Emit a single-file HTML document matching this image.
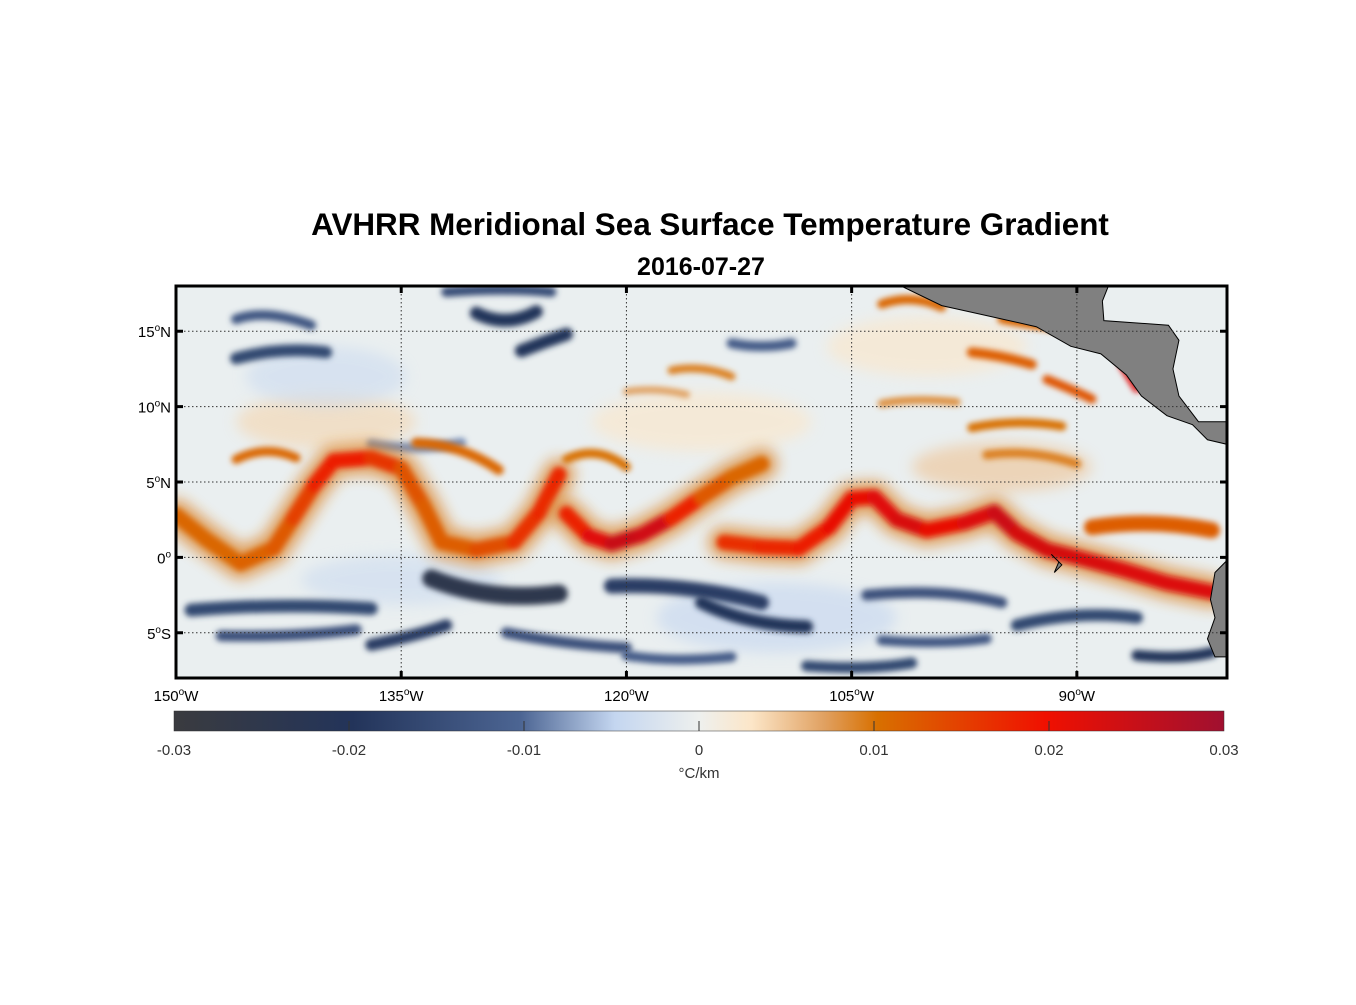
<!DOCTYPE html>
<html><head><meta charset="utf-8"><style>
body{margin:0;background:#fff;font-family:"Liberation Sans",sans-serif}
svg text{font-family:"Liberation Sans",sans-serif}
</style></head><body>
<svg id="chart" width="1356" height="1000" viewBox="0 0 1356 1000" xmlns="http://www.w3.org/2000/svg">
<defs>
<filter id="blur" filterUnits="userSpaceOnUse" x="150" y="260" width="1110" height="440"><feGaussianBlur stdDeviation="3"/></filter>
<filter id="blur2" filterUnits="userSpaceOnUse" x="150" y="260" width="1110" height="440"><feGaussianBlur stdDeviation="7"/></filter>
<clipPath id="clip"><rect x="176" y="286" width="1051" height="392"/></clipPath>
<linearGradient id="cbar" x1="0" x2="1" y1="0" y2="0">
<stop offset="0" stop-color="#3a3b3f"/><stop offset="0.17" stop-color="#23345a"/>
<stop offset="0.33" stop-color="#4c6593"/><stop offset="0.42" stop-color="#c4d6f0"/>
<stop offset="0.5" stop-color="#eef0ee"/><stop offset="0.55" stop-color="#fce6c8"/>
<stop offset="0.62" stop-color="#e0a060"/><stop offset="0.67" stop-color="#d87000"/>
<stop offset="0.83" stop-color="#f01000"/><stop offset="1" stop-color="#a01030"/>
</linearGradient>
</defs>
<text x="710" y="235" text-anchor="middle" font-size="31.4" font-weight="bold">AVHRR Meridional Sea Surface Temperature Gradient</text>
<text x="701" y="275" text-anchor="middle" font-size="25" font-weight="bold">2016-07-27</text>
<g clip-path="url(#clip)">
<rect x="176" y="286" width="1051" height="392" fill="#eaeff0"/>
<g id="fields"></g>
<g id="land"></g>
</g>
<g id="grid"></g>
<rect x="176" y="286" width="1051" height="392" fill="none" stroke="#000" stroke-width="3"/>
<g id="axes"></g>
<rect x="174" y="711" width="1050" height="20" fill="url(#cbar)" stroke="#333" stroke-width="0.5"/>
<g id="cbticks"></g>
<text x="699" y="778" text-anchor="middle" font-size="15" fill="#333">°C/km</text>
</svg>
<script>
const NS="http://www.w3.org/2000/svg";
const lonMin=-150, lonMax=-80, latMin=-8, latMax=18;
const X0=176,X1=1227,Y0=286,Y1=678;
const px=l=>X0+(l-lonMin)/(lonMax-lonMin)*(X1-X0);
const py=l=>Y1-(l-latMin)/(latMax-latMin)*(Y1-Y0);
const cbMin=-0.03,cbMax=0.03;
const cx=v=>174+(v-cbMin)/(cbMax-cbMin)*1050;
const lonTicks=[-150,-135,-120,-105,-90];
const lonLabels=["150","135","120","105","90"];
const latTicks=[15,10,5,0,-5];
const latLabels=["15","10","5","0","5"];
const latHemi=["N","N","N","",'S'];
const cbTicks=[-0.03,-0.02,-0.01,0,0.01,0.02,0.03];
const cbLabels=["-0.03","-0.02","-0.01","0","0.01","0.02","0.03"];
function mk(tag,attrs,parent){const e=document.createElementNS(NS,tag);for(const k in attrs)e.setAttribute(k,attrs[k]);parent.appendChild(e);return e;}
function color(v){
 const stops=[[-0.03,[58,59,63]],[-0.02,[35,52,90]],[-0.01,[76,101,147]],[-0.005,[196,214,240]],[0,[238,240,238]],[0.003,[252,230,200]],[0.007,[224,160,96]],[0.01,[216,112,0]],[0.02,[240,16,0]],[0.03,[160,16,48]]];
 for(let i=0;i<stops.length-1;i++){if(v<=stops[i+1][0]){const t=(v-stops[i][0])/(stops[i+1][0]-stops[i][0]);const a=stops[i][1],b=stops[i+1][1];return `rgb(${a.map((c,j)=>Math.round(c+(b[j]-c)*Math.max(0,t))).join(',')})`;}}
 return 'rgb(160,16,48)';
}
const frontLon=[-150,-148,-145.7,-143.5,-142.2,-140.8,-139.5,-137,-135,-133.5,-132.3,-130,-127.5,-125.8,-124.5];
const frontLat=[2.8,1.2,-0.4,0.6,2.6,4.8,6.4,6.6,5.9,3.4,1.0,0.5,1.0,3.0,5.5];
const frontVal=[0.011,0.011,0.011,0.012,0.013,0.017,0.019,0.018,0.014,0.012,0.012,0.012,0.015,0.018,0.017];
const front2Lon=[-124,-122.5,-121,-119,-117,-115,-113,-111];
const front2Lat=[2.9,1.4,0.9,1.5,2.6,4.0,5.3,6.2];
const front2Val=[0.016,0.02,0.024,0.026,0.022,0.014,0.011,0.011];
const front3Lon=[-113.5,-111,-108.5,-106.5,-105,-103.5,-102,-100,-97.5,-95.5,-94,-92,-90,-87,-84,-81];
const front3Lat=[1.0,0.7,0.6,2.0,3.9,4.0,2.5,1.8,2.3,3.0,1.6,0.5,0.0,-0.8,-1.7,-2.3];
const front3Val=[0.016,0.018,0.017,0.02,0.022,0.02,0.024,0.022,0.02,0.025,0.024,0.023,0.024,0.022,0.023,0.022];
const streaks=[
[-149,-3.5,-143,-3.0,-137,-3.4,-0.016,13],[-147,-5.2,-142,-5.3,-138,-4.8,-0.014,11],
[-133,-1.4,-129,-3.0,-124.5,-2.4,-0.025,18],[-137,-5.8,-134,-5.2,-132,-4.5,-0.018,12],
[-121,-1.9,-116,-1.7,-111,-3.0,-0.018,15],[-115,-3.0,-112,-4.5,-108,-4.6,-0.02,13],
[-128,-5.0,-124,-5.8,-120,-6.0,-0.014,11],[-104,-2.5,-99,-2.0,-95,-3.0,-0.014,11],
[-94,-4.5,-90,-3.5,-86,-4.0,-0.016,12],[-103,-5.5,-99,-5.8,-96,-5.4,-0.013,10],
[-108,-7.2,-104,-7.5,-101,-7.0,-0.016,11],[-86,-6.5,-83,-6.8,-81,-6.3,-0.02,11],
[-146,13.2,-143,14.0,-140,13.6,-0.016,12],[-146,15.8,-144,16.5,-141,15.4,-0.013,10],
[-130,16.2,-128,15.2,-126,16.3,-0.02,13],[-127,13.7,-125.5,14.3,-124,14.8,-0.02,13],
[-132,17.6,-128,17.9,-125,17.6,-0.015,10],[-113,14.2,-111,13.8,-109,14.2,-0.012,10],
[-137,7.5,-134,7.0,-131,7.6,-0.008,10],[-120,-6.5,-117,-7.0,-113,-6.6,-0.012,10],
[-134,7.6,-131,7.5,-128.5,5.8,0.011,10],[-124,6.5,-122,7.5,-120,6.0,0.01,9],
[-146,6.5,-144,7.5,-142,6.6,0.011,9],[-103,16.8,-101,17.5,-99,16.6,0.011,9],
[-97,13.6,-95,13.4,-93,12.8,0.012,10],[-97,8.6,-94,9.2,-91,8.7,0.01,9],
[-92,11.8,-90,11.0,-89,10.5,0.013,9],[-87,12.8,-86.5,12.0,-86,11.2,0.022,8],
[-95,15.8,-93,15.4,-91,15.2,0.011,9],[-117,12.4,-115,12.8,-113,12.0,0.009,8],
[-89,2.0,-85,2.6,-81,1.8,0.012,16],[-96,6.8,-93,7.2,-90,6.2,0.009,9],
[-103,10.2,-101,10.6,-98,10.3,0.008,8],[-120,11.0,-118,11.3,-116,10.8,0.007,7]
];
const fields=document.getElementById('fields');
const tints=[[-140,9,0.004,90,28],[-115,9,0.003,110,30],[-95,6,0.005,90,25],[-135,-1.5,-0.004,100,25],[-110,-4,-0.005,120,35],[-140,12,-0.004,80,30],[-100,14,0.003,100,30]];
tints.forEach(t=>{const e=mk('ellipse',{cx:px(t[0]),cy:py(t[1]),rx:t[3],ry:t[4],fill:color(t[2]),opacity:0.6,filter:'url(#blur2)'},fields);

});
streaks.forEach(s=>{const d=`M${px(s[0])},${py(s[1])} Q${px(s[2])},${py(s[3])} ${px(s[4])},${py(s[5])}`;
const e=mk('path',{d:d,fill:'none',stroke:color(s[6]),'stroke-width':s[7],'stroke-linecap':'round',filter:'url(#blur)'},fields);

});
function drawFront(lons,lats,vals,name){
 let d='M'+lons.map((l,i)=>px(l)+','+py(lats[i])).join(' L');
 const h=mk('path',{d:d,fill:'none',stroke:color(0.009),'stroke-width':32,'stroke-linejoin':'round','stroke-linecap':'round',opacity:0.7,filter:'url(#blur2)'},fields);
 
 
 const g=mk('g',{filter:'url(#blur)'},fields);
 
 
 for(let i=0;i<lons.length-1;i++){
  const e=mk('line',{x1:px(lons[i]),y1:py(lats[i]),x2:px(lons[i+1]),y2:py(lats[i+1]),stroke:color((vals[i]+vals[i+1])/2),'stroke-width':15,'stroke-linecap':'round'},g);
  
  
 }
}
drawFront(frontLon,frontLat,frontVal,'front-west');
drawFront(front2Lon,front2Lat,front2Val,'front-central');
drawFront(front3Lon,front3Lat,front3Val,'front-east');
const landLon=[-101.7,-99,-96.3,-92.7,-90.4,-88.4,-86.7,-85.7,-84,-82.3,-81.3,-80,-80,-81.9,-83.2,-83.6,-83.2,-83.9,-88.2,-88.3,-87.9];
const landLat=[18,16.7,16.1,15.3,14.0,13.5,12.1,10.7,9.4,8.8,7.8,7.5,9.0,9.0,10.7,12.5,14.4,15.4,15.7,17.0,18];
const land=document.getElementById('land');
let ld='M'+landLon.map((l,i)=>px(l)+','+py(landLat[i])).join(' L')+' Z';
const lp=mk('path',{d:ld,fill:'#808080',stroke:'#000','stroke-width':1},land);


const saLon=[-80,-80.8,-81.1,-80.8,-81.3,-80.8,-80];
const saLat=[-0.2,-1.0,-2.8,-4.0,-5.4,-6.6,-6.6];
let sd='M'+saLon.map((l,i)=>px(l)+','+py(saLat[i])).join(' L')+' Z';
const sp=mk('path',{d:sd,fill:'#808080',stroke:'#000','stroke-width':1},land);


const gp=mk('path',{d:`M${px(-91.7)},${py(0.2)} L${px(-91)},${py(-0.5)} L${px(-91.5)},${py(-1)} L${px(-91.2)},${py(-0.3)} Z`,fill:'#808080',stroke:'#000','stroke-width':1},land);


const grid=document.getElementById('grid'),axes=document.getElementById('axes');
lonTicks.forEach((l,i)=>{const x=px(l);
 if(i>0){const g=mk('line',{x1:x,x2:x,y1:Y0,y2:Y1,stroke:'#333','stroke-width':1,'stroke-dasharray':'1.5,2.5'},grid);
 
 
 [[Y0,Y0+7],[Y1-7,Y1]].forEach(p=>{const t=mk('line',{x1:x,x2:x,y1:p[0],y2:p[1],stroke:'#000','stroke-width':3},axes);});}
 const t=mk('text',{x:x,y:701,'text-anchor':'middle','font-size':15},axes);
 t.innerHTML=`${lonLabels[i]}<tspan dy="-6" font-size="10">o</tspan><tspan dy="6">W</tspan>`;
 
 
});
latTicks.forEach((l,i)=>{const y=py(l);
 const g=mk('line',{x1:X0,x2:X1,y1:y,y2:y,stroke:'#333','stroke-width':1,'stroke-dasharray':'1.5,2.5'},grid);
 
 
 [[X0,X0+7],[X1-7,X1]].forEach(p=>{const t=mk('line',{x1:p[0],x2:p[1],y1:y,y2:y,stroke:'#000','stroke-width':3},axes);});
 const t=mk('text',{x:171,y:y+6,'text-anchor':'end','font-size':15},axes);
 t.innerHTML=`${latLabels[i]}<tspan dy="-6" font-size="10">o</tspan><tspan dy="6">${latHemi[i]}</tspan>`;
 
 
});
const cbt=document.getElementById('cbticks');
cbTicks.forEach((v,i)=>{const x=cx(v);
 if(i>0&&i<cbTicks.length-1){const l=mk('line',{x1:x,x2:x,y1:721,y2:731,stroke:'#333','stroke-width':1},cbt);}
 const t=mk('text',{x:x,y:755,'text-anchor':'middle','font-size':15,fill:'#333'},cbt);t.textContent=cbLabels[i];
 
 
});
</script>
</body></html>
